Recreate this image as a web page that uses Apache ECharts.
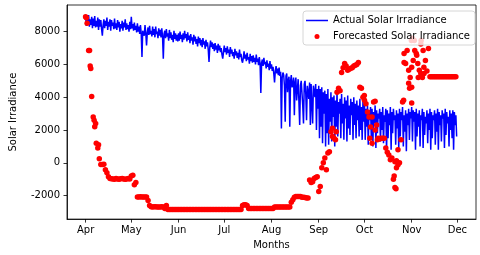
<!DOCTYPE html>
<html>
<head>
<meta charset="utf-8">
<script src="https://cdn.jsdelivr.net/npm/echarts@6/dist/echarts.min.js"></script>
<style>
html,body{margin:0;padding:0;background:#fff;}
#chart{width:480px;height:255px;}
</style>
</head>
<body>
<div id="chart"></div>
<script>
// Tick labels
const monthNames = ['Apr','May','Jun','Jul','Aug','Sep','Oct','Nov','Dec'];
const monthStartDays = [0,30,61,91,122,153,183,214,244]; // days since Apr 1
const yTicks = [-2000,0,2000,4000,6000,8000];

// Actual Solar Irradiance, two readings per day (Apr 1 .. Nov 30)
const actualApr = [8950,8350,8850,8450,9000,8300,8750,8400,8900,8200,8800,8350,8950,8250,8650,8300,8850,8100,8750,8300,
  8700,8150,7750,8400,8750,8200,8650,8350,8850,8100,8600,8300,8750,8050,8700,8350,8550,8150,8800,8200,
  8500,8100,8700,8250,8600,8000,8450,8200,8650,8050,8550,8250,8750,8100,8500,8150,8400,8000,8600,8150];
const actualMay = [8900,8200,8450,8050,8550,8100,8350,7950,8500,8000,8300,7850,8400,7900,6450,8050,8150,7750,8400,7900,
  7150,7950,8250,7800,8350,7850,8050,7700,8300,7800,8150,7650,8300,7850,8000,7600,8200,7750,8100,7650,
  8200,7700,6350,7850,8050,7600,8150,7700,7900,7450,8100,7600,7950,7500,7800,7350,8050,7550,7900,7450,7800,7400];
const actualJun = [7900,7450,8000,7550,7800,7350,7900,7500,8050,7600,7850,7400,7950,7500,7750,7300,7850,7450,7650,7200,
  7800,7400,7700,7250,7550,7100,7700,7300,7600,7150,7500,7050,7600,7200,7400,6950,7500,7100,7350,6900,
  6150,7050,7450,7050,7350,6950,7250,6800,7300,6900,7150,6700,7250,6850,7150,6750,7000,6600,6350,6750];
const actualJul = [7150,6750,7000,6600,7100,6700,6900,6450,7050,6650,6900,6500,6750,6350,6950,6550,6800,6400,6700,6300,
  6900,6450,6650,6250,6100,6400,6800,6350,6600,6200,6700,6300,6450,6050,6650,6200,6500,6100,6550,6150,
  6400,6000,6600,6150,6350,5950,6450,6050,4250,6100,6300,5900,6400,6000,6150,5750,6250,5850,6050,5650,6200,5750];
const actualAug = [6000,5600,5850,5450,4900,5600,5900,5450,5750,5350,5800,5300,5550,2100,5200,5500,5350,4700,2500,5300,
  5450,4300,5050,5250,2200,5000,5350,4600,4800,5200,2900,4900,5200,3800,4500,5100,5100,2300,4700,5000,
  4900,3500,2400,4800,5000,4200,2600,4700,4700,3900,4900,2300,4800,3600,2400,4700,4600,4000,4800,2000,4500,3300];
const actualSep = [4700,1500,4500,2200,4600,1200,4300,3000,4400,1000,4200,1800,4500,1100,3900,2500,4300,1300,4000,2800,
  4100,1000,3800,2200,4400,1600,3700,3000,3900,1500,4200,2400,3600,1400,4000,2700,3800,1300,4100,2100,
  3500,1700,3900,2900,3700,1400,4000,2300,3600,1500,3800,2600,3500,1600,3900,2000,3400,1400,3700,2500];
const actualOct = [3600,1400,3300,2200,3500,1100,3200,2600,3400,1500,3300,1000,3100,2400,3500,900,3200,1800,3000,2700,
  3300,1300,3100,2000,3400,1200,2900,2500,3300,700,3200,1500,3000,2300,3400,800,3100,1800,3300,2600,
  2900,1100,3200,2100,3000,900,3300,1600,3100,2600,3400,1000,2900,1900,3200,700,3000,2300,3300,1400,3100,2700];
const actualNov = [3400,1300,3200,2500,3100,800,3300,1600,3000,2200,3200,1000,2900,2600,3300,900,3100,1700,2800,2400,
  3200,1200,3000,2000,3300,800,3100,1500,2900,2600,3200,1100,3000,1900,3300,800,3100,2300,2900,1300,
  3200,2700,3000,900,3300,1700,3100,2400,2800,1000,3200,2000,3000,1500,3200,800,3100,2300,2900,1600];

// Forecasted Solar Irradiance, daily (Apr 1 .. Nov 30)
const forecastApr = [8900,8500,6850,5900,4050,2800,2200,1200,900,250,-100,-100,-80,-420,-600,-850,-950,-970,-980,-1000,-960,-990,-1000,-970,-950,-980,-1000,-990,-960,-980];
const forecastMay = [-800,-750,-1330,-1200,-2080,-2080,-2070,-2080,-2090,-2080,-2080,-2300,-2600,-2680,-2700,-2680,-2670,-2700,-2690,-2700,-2680,-2700,-2780,-2600,-2850,-2850,-2840,-2850,-2850,-2850,-2840];
const forecastJun = [-2850,-2850,-2850,-2850,-2850,-2850,-2850,-2850,-2850,-2850,-2850,-2850,-2850,-2850,-2850,-2850,-2850,-2850,-2850,-2850,-2850,-2850,-2850,-2850,-2850,-2850,-2850,-2850,-2850,-2850];
const forecastJul = [-2850,-2850,-2850,-2850,-2850,-2850,-2850,-2850,-2850,-2850,-2850,-2850,-2600,-2550,-2550,-2600,-2780,-2780,-2780,-2780,-2780,-2780,-2780,-2780,-2780,-2780,-2780,-2780,-2780,-2780,-2780];
const forecastAug = [-2780,-2780,-2700,-2700,-2700,-2700,-2700,-2700,-2700,-2700,-2700,-2700,-2700,-2400,-2250,-2100,-2050,-2050,-2050,-2050,-2100,-2100,-2120,-2150,-2150,-1050,-1200,-1150,-950,-900,-850];
const forecastSep = [-1750,-1450,-300,0,300,-420,600,680,1900,1600,1500,1400,4300,4550,4400,5500,5800,6050,5900,5650,5700,5760,5800,5900,5950,6000,6120,4600,4540,4000];
const forecastOct = [3820,3600,3100,2800,2180,1200,3700,2000,2300,1500,1450,1500,1500,1500,900,650,480,180,300,-1000,-1500,-300,-120,0,1400,3700,6670,6060,6850,5640,5200];
const forecastNov = [5820,6240,6850,6670,6060,5640,5450,5200,5820,6240,5600,6970,5250,5250,5250,5250,5250,5250,5250,5250,5250,5250,5250,5250,5250,5250,5250,5250,5250,5250];
// extra forecast points on days with several readings: [day since Apr 1, value]
const forecastExtra = [[0.5,8850],[2.6,6850],[3.4,5750],[5.6,2600],[6.6,2400],[8.5,1100],
  [162,2100],[164.5,1900],
  [182.9,4100],[186.5,1500],[188,2800],[190,3750],[191.5,1400],[202.5,-800],[203,60],[203.7,-1580],[205,790],[204,120],
  [208.7,3820],[209,6120],[212,4850],[212.6,4540],[214,4600],[214,3640],[213.8,7450],[214.5,7600],[215.7,7450],
  [217.3,6550],[218.3,5200],[220.2,7450],[220,7250],[221.5,6850],[222.1,5450]];

const actual = [].concat(actualApr,actualMay,actualJun,actualJul,actualAug,actualSep,actualOct,actualNov);
const forecast = [].concat(forecastApr,forecastMay,forecastJun,forecastJul,forecastAug,forecastSep,forecastOct,forecastNov);

const FONT = 'DejaVu Sans';
const chart = echarts.init(document.getElementById('chart'), null, {renderer:'canvas'});
chart.setOption({
  animation:false,
  backgroundColor:'#fff',
  textStyle:{fontFamily:FONT},
  grid:{left:58,right:4,top:5,bottom:35,show:true,borderColor:'#000',borderWidth:0.8,backgroundColor:'transparent'},
  legend:{
    orient:'vertical', left:303, top:11, z:10,
    padding:[3,5,2,3], itemGap:3, itemWidth:22, itemHeight:5,
    backgroundColor:'rgba(255,255,255,0.8)', borderColor:'#cccccc', borderWidth:0.8, borderRadius:3,
    textStyle:{fontFamily:FONT,fontSize:10,color:'#000',lineHeight:13},
    data:[{name:'Actual Solar Irradiance',icon:'path://M0 0H22V1.5H0Z',itemStyle:{color:'#0000ff'}},
          {name:'Forecasted Solar Irradiance',icon:'circle'}]
  },
  xAxis:{
    type:'value', min:-12.2, max:256.2,
    name:'Months', nameLocation:'middle', nameGap:20,
    nameTextStyle:{fontFamily:FONT,fontSize:10,color:'#000'},
    axisLine:{show:true,onZero:false,lineStyle:{color:'#000',width:0.8}},
    axisTick:{show:true,length:3.5,lineStyle:{color:'#000',width:0.8},customValues:monthStartDays},
    axisLabel:{fontFamily:FONT,fontSize:10,color:'#000',margin:6,customValues:monthStartDays,
      formatter:function(v){const i=monthStartDays.indexOf(Math.round(v));return i>=0?monthNames[i]:'';}},
    splitLine:{show:false}
  },
  yAxis:{
    type:'value', min:-3430, max:9620,
    name:'Solar Irradiance', nameLocation:'middle', nameGap:49,
    nameTextStyle:{fontFamily:FONT,fontSize:10,color:'#000'},
    axisLine:{show:true,onZero:false,lineStyle:{color:'#000',width:0.8}},
    axisTick:{show:true,length:3.5,lineStyle:{color:'#000',width:0.8},customValues:yTicks},
    axisLabel:{fontFamily:FONT,fontSize:10,color:'#000',margin:7,customValues:yTicks,
      formatter:function(v){return String(Math.round(v));}},
    splitLine:{show:false}
  },
  series:[
    {name:'Actual Solar Irradiance',type:'line',symbol:'none',showSymbol:false,z:2,
     lineStyle:{color:'#0000ff',width:1.5},itemStyle:{color:'#0000ff'},
     data:actual.map((v,i)=>[i/2,v])},
    {name:'Forecasted Solar Irradiance',type:'scatter',symbol:'circle',symbolSize:5.5,z:3,
     itemStyle:{color:'#ff0000',opacity:1},
     data:forecast.map((v,i)=>[i,v]).concat(forecastExtra)}
  ]
});
</script>
</body>
</html>
